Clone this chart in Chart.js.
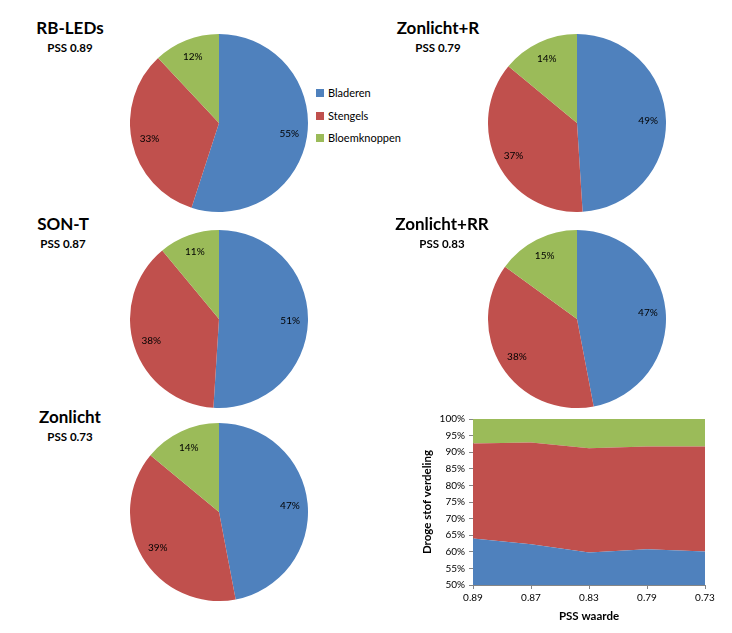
<!DOCTYPE html>
<html>
<head>
<meta charset="utf-8">
<script src="https://cdn.jsdelivr.net/npm/chart.js@4"></script>
<style>
  html, body { margin: 0; padding: 0; background: #fff; }
  body { width: 732px; height: 633px; position: relative; overflow: hidden; font-family: Lato, "Open Sans", sans-serif; color: #000; }
  canvas { position: absolute; }
  .ttl { position: absolute; text-align: center; font-weight: bold; white-space: nowrap; transform: translateX(-50%); }
  .ttl .main { font-size: 17px; line-height: 20px; }
  .ttl .sub { font-size: 11.5px; line-height: 20px; }
  .legend { position: absolute; left: 316px; top: 85px; font-size: 11px; }
  .legend div { height: 22.5px; line-height: 16px; white-space: nowrap; }
  .legend span.sw { display: inline-block; width: 8px; height: 8px; margin-right: 4px; vertical-align: 0px; }
</style>
</head>
<body>
<script>
// ---- Data ----
const categories = ['Bladeren', 'Stengels', 'Bloemknoppen'];
const colors = ['#4F81BD', '#C0504D', '#9BBB59'];

const treatments = ['RB-LEDs', 'Zonlicht+R', 'SON-T', 'Zonlicht+RR', 'Zonlicht'];
const pssLabels = ['PSS 0.89', 'PSS 0.79', 'PSS 0.87', 'PSS 0.83', 'PSS 0.73'];

const rbLeds      = [55, 33, 12];
const zonlichtR   = [49, 37, 14];
const sonT        = [51, 38, 11];
const zonlichtRR  = [47, 38, 15];
const zonlicht    = [47, 39, 14];

const pssTicks = ['0.89', '0.87', '0.83', '0.79', '0.73'];
const areaBladeren     = [64.0, 62.3, 59.8, 60.8, 60.1];
const areaStengels     = [28.6, 30.6, 31.4, 30.9, 31.6];
const areaBloemknoppen = [7.4, 7.1, 8.8, 8.3, 8.3];

// ---- Layout (positions only) ----
const pieBoxes = [
  { cx: 219, cy: 123, tx: 70,  ty: 18 },
  { cx: 577, cy: 123, tx: 438, ty: 18 },
  { cx: 219, cy: 319, tx: 63,  ty: 214 },
  { cx: 577, cy: 319, tx: 442, ty: 214 },
  { cx: 219, cy: 512, tx: 70,  ty: 407 }
];
const R = 89;
const pieData = [rbLeds, zonlichtR, sonT, zonlichtRR, zonlicht];

Chart.defaults.font.family = 'Lato, "Open Sans", sans-serif';
Chart.defaults.color = '#000';

const pieLabelPlugin = {
  id: 'pieLabels',
  afterDatasetsDraw(chart) {
    const ctx = chart.ctx;
    const meta = chart.getDatasetMeta(0);
    const data = chart.data.datasets[0].data;
    ctx.save();
    ctx.font = '10px Lato, "Open Sans", sans-serif';
    ctx.fillStyle = '#000';
    ctx.textAlign = 'center';
    ctx.textBaseline = 'middle';
    meta.data.forEach((arc, i) => {
      const p = arc.getProps(['x', 'y', 'startAngle', 'endAngle', 'outerRadius'], true);
      const a = (p.startAngle + p.endAngle) / 2;
      const r = p.outerRadius * 0.8;
      ctx.fillText(data[i] + '%', p.x + Math.cos(a) * r, p.y + Math.sin(a) * r);
    });
    ctx.restore();
  }
};

pieBoxes.forEach((b, k) => {
  const cv = document.createElement('canvas');
  cv.width = 2 * R; cv.height = 2 * R;
  cv.style.left = (b.cx - R) + 'px';
  cv.style.top = (b.cy - R) + 'px';
  cv.style.width = (2 * R) + 'px';
  cv.style.height = (2 * R) + 'px';
  document.body.appendChild(cv);
  new Chart(cv, {
    type: 'pie',
    data: {
      labels: categories,
      datasets: [{ data: pieData[k], backgroundColor: colors, borderWidth: 0, hoverOffset: 0 }]
    },
    options: {
      responsive: false,
      animation: false,
      devicePixelRatio: 1,
      layout: { padding: 0 },
      plugins: { legend: { display: false }, tooltip: { enabled: false } }
    },
    plugins: [pieLabelPlugin]
  });

  const t = document.createElement('div');
  t.className = 'ttl';
  t.style.left = b.tx + 'px';
  t.style.top = b.ty + 'px';
  t.innerHTML = '<div class="main"></div><div class="sub"></div>';
  t.querySelector('.main').textContent = treatments[k];
  t.querySelector('.sub').textContent = pssLabels[k];
  document.body.appendChild(t);
});

// Legend
const lg = document.createElement('div');
lg.className = 'legend';
categories.forEach((c, i) => {
  const row = document.createElement('div');
  const sw = document.createElement('span');
  sw.className = 'sw';
  sw.style.background = colors[i];
  row.appendChild(sw);
  row.appendChild(document.createTextNode(c));
  lg.appendChild(row);
});
document.body.appendChild(lg);

// ---- Stacked area chart ----
const ac = document.createElement('canvas');
ac.width = 312; ac.height = 218;
ac.style.left = '420px'; ac.style.top = '405px';
ac.style.width = '312px'; ac.style.height = '218px';
document.body.appendChild(ac);

const areaSeries = [areaBladeren, areaStengels, areaBloemknoppen];
new Chart(ac, {
  type: 'line',
  data: {
    labels: pssTicks,
    datasets: areaSeries.map((d, i) => ({
      label: categories[i],
      data: d,
      backgroundColor: colors[i],
      borderColor: colors[i],
      borderWidth: 0,
      pointRadius: 0,
      tension: 0,
      fill: i === 0 ? 'origin' : '-1'
    }))
  },
  options: {
    responsive: false,
    animation: false,
    devicePixelRatio: 1,
    layout: { padding: { top: 14, right: 27, left: 0, bottom: 0 } },
    plugins: { legend: { display: false }, tooltip: { enabled: false } },
    scales: {
      x: {
        type: 'category',
        offset: false,
        grid: { display: true, drawOnChartArea: false, tickLength: 4, color: '#868686' },
        border: { color: '#868686' },
        ticks: { font: { size: 10 }, padding: 3, maxRotation: 0 },
        title: { display: true, text: 'PSS waarde', font: { size: 11.5, weight: 'bold' }, padding: { top: 4, bottom: 0 } },
        afterFit(s) { s.height = 38; }
      },
      y: {
        stacked: true,
        min: 50, max: 100,
        grid: { display: true, drawOnChartArea: false, tickLength: 4, color: '#868686' },
        border: { color: '#868686' },
        ticks: { stepSize: 5, font: { size: 10 }, padding: 4, callback: v => v + '%' },
        title: { display: true, text: 'Droge stof verdeling', font: { size: 11.5, weight: 'bold' }, padding: { top: 0, bottom: 2 } },
        afterFit(s) { s.width = 53; }
      }
    }
  }
});
</script>
</body>
</html>
